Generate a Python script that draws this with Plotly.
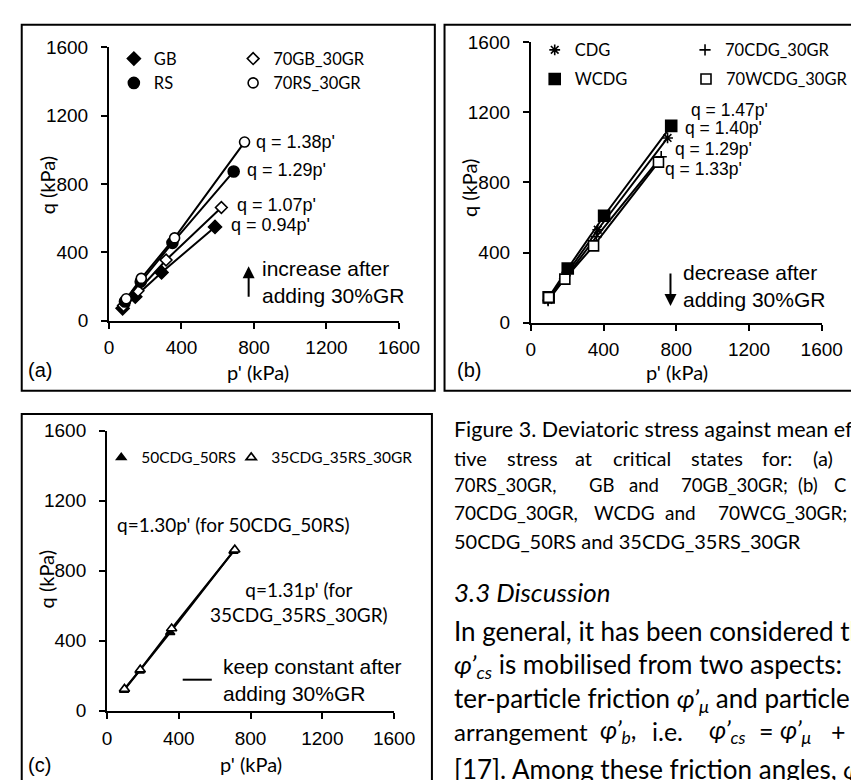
import plotly.graph_objects as go

W, H = 859, 780

# ---------------- data ----------------
# panel (a)
gb_p = [75, 145, 290, 585]
gb_q = [72, 140, 282, 548]
gb30_p = [80, 160, 315, 620]
gb30_q = [88, 175, 355, 662]
rs_p = [88, 175, 350, 688]
rs_q = [112, 228, 455, 873]
rs30_p = [95, 178, 362, 748]
rs30_q = [128, 247, 484, 1045]
eq_a = ["q = 1.38p'", "q = 1.29p'", "q = 1.07p'", "q = 0.94p'"]

# panel (b)
cdg_p = [95, 190, 368, 752]
cdg_q = [130, 268, 530, 1054]
cdg30_p = [95, 185, 360, 717]
cdg30_q = [125, 250, 490, 947]
wcdg_p = [98, 203, 403, 772]
wcdg_q = [144, 309, 610, 1123]
wcdg30_p = [98, 187, 345, 702]
wcdg30_q = [144, 248, 438, 916]
eq_b = ["q = 1.47p'", "q = 1.40p'", "q = 1.29p'", "q = 1.33p'"]

# panel (c)
m50_p = [95, 182, 352, 705]
m50_q = [118, 228, 448, 912]
m35_p = [97, 185, 360, 712]
m35_q = [125, 235, 470, 920]
eq_c = ["q=1.30p' (for 50CDG_50RS)", "q=1.31p' (for<br>35CDG_35RS_30GR)"]

ticks = [0, 400, 800, 1200, 1600]

ARIAL = "Liberation Sans, Arial, sans-serif"
CALI = "Lato, Open Sans, sans-serif"


def X(px):
    return px / W


def Y(py):
    return 1 - py / H


fig = go.Figure()


def series(p, q, name, symbol, size, xa, ya, leg, fill="black"):
    fig.add_trace(go.Scatter(x=p, y=q, mode="lines", line=dict(color="black", width=2),
                             xaxis=xa, yaxis=ya, showlegend=False, hoverinfo="skip"))
    fig.add_trace(go.Scatter(x=p, y=q, mode="markers", name=name,
                             marker=dict(symbol=symbol, size=size, color=fill,
                                         line=dict(color="black", width=1.6)),
                             xaxis=xa, yaxis=ya, legend=leg))


# panel (a)
series(gb_p, gb_q, "GB", "diamond", 10, "x", "y", "legend")
series(gb30_p, gb30_q, "70GB_30GR", "diamond", 9, "x", "y", "legend2", fill="white")
series(rs_p, rs_q, "RS", "circle", 11, "x", "y", "legend3")
series(rs30_p, rs30_q, "70RS_30GR", "circle", 10, "x", "y", "legend4", fill="white")
# panel (b)
series(cdg_p, cdg_q, "CDG", "asterisk-open", 9, "x2", "y2", "legend5")
series(cdg30_p, cdg30_q, "70CDG_30GR", "cross-thin-open", 8, "x2", "y2", "legend6")
series(wcdg_p, wcdg_q, "WCDG", "square", 11, "x2", "y2", "legend7")
series(wcdg30_p, wcdg30_q, "70WCDG_30GR", "square", 10, "x2", "y2", "legend8", fill="white")
# panel (c)
series(m50_p, m50_q, "50CDG_50RS", "triangle-up", 8, "x3", "y3", "legend9")
series(m35_p, m35_q, "35CDG_35RS_30GR", "triangle-up", 9, "x3", "y3", "legend10", fill="white")


def axis(dom, anchor, is_x):
    d = dict(domain=dom, anchor=anchor, range=[0, 1600], tickvals=ticks,
             showline=True, linecolor="black", linewidth=2, mirror=False,
             ticks="outside", ticklen=6, tickwidth=2, tickcolor="black",
             showgrid=False, zeroline=False, fixedrange=True,
             tickfont=dict(family=ARIAL, size=19, color="black"))
    d["ticklabelstandoff"] = 3 if is_x else 9
    return d


fig.update_layout(
    xaxis=axis([X(99), X(398)], "y", True),
    yaxis=axis([Y(311), Y(30)], "x", False),
    xaxis2=axis([X(534), X(834)], "y2", True),
    yaxis2=axis([Y(313), Y(25)], "x2", False),
    xaxis3=axis([X(97), X(393)], "y3", True),
    yaxis3=axis([Y(712), Y(424)], "x3", False),
)


def legend(px, py, size):
    return dict(x=X(px - 20), y=Y(py), xanchor="left", yanchor="middle",
                orientation="v", bgcolor="rgba(0,0,0,0)", borderwidth=0,
                font=dict(family=CALI, size=size, color="black"), itemclick=False,
                itemdoubleclick=False)


leg_pos = [(124, 42, 16.5), (247, 42, 16.5), (124, 67, 16.5), (247, 67, 16.5),
           (558, 33, 16.5), (713, 33, 16.5), (558, 63, 16.5), (714, 63, 16.5),
           (111, 452, 15.5), (245, 452, 15.5)]
legs = {}
for i, (px, py, sz) in enumerate(leg_pos):
    key = "legend" if i == 0 else "legend%d" % (i + 1)
    legs[key] = legend(px, py, sz)
fig.update_layout(**legs)

anns = []


def ann(text, px, py, size, family, xanchor="left", yanchor="middle", **kw):
    d = dict(text=text, x=X(px), y=Y(py), xref="paper", yref="paper",
             xanchor=xanchor, yanchor=yanchor, showarrow=False,
             font=dict(family=family, size=size, color="black"))
    d.update(kw)
    anns.append(d)


# panel (a) labels
for t, (px, py) in zip(eq_a, [(249, 127), (239, 156), (229, 192), (223, 213)]):
    ann(t, px, py, 18, ARIAL)
ann("increase after<br>adding 30%GR", 255, 271, 21, ARIAL, align="left")
ann("q (kPa)", 35, 172, 20, CALI, xanchor="center", textangle=-90)
ann("p' (kPa)", 253, 364, 20, CALI, xanchor="center")
ann("(a)", 13, 362, 20, ARIAL)

# panel (b) labels
for t, (px, py) in zip(eq_b, [(697, 95), (691, 113), (681, 135), (670, 155)]):
    ann(t, px, py, 17.5, ARIAL)
ann("decrease after<br>adding 30%GR", 689, 275, 21, ARIAL, align="left")
ann("q (kPa)", 471, 175, 20, CALI, xanchor="center", textangle=-90)
ann("p' (kPa)", 685, 364, 20, CALI, xanchor="center")
ann("(b)", 456, 362, 20, ARIAL)

# panel (c) labels
ann(eq_c[0], 105, 520, 19, CALI)
ann(eq_c[1], 295, 600, 19, CALI, xanchor="center", align="center")
ann("keep constant after<br>adding 30%GR", 215, 680, 21, ARIAL, align="left")
ann("q (kPa)", 34, 577, 20, CALI, xanchor="center", textangle=-90)
ann("p' (kPa)", 245, 767, 20, CALI, xanchor="center")
ann("(c)", 13, 768, 20, ARIAL)

# arrows
anns.append(dict(x=X(243), y=Y(255), xref="paper", yref="paper", ax=0, ay=32,
                 text="", showarrow=True, arrowhead=2, arrowsize=1.2, arrowwidth=2,
                 arrowcolor="black", standoff=0))
anns.append(dict(x=X(678), y=Y(296), xref="paper", yref="paper", ax=0, ay=-34,
                 text="", showarrow=True, arrowhead=2, arrowsize=1.2, arrowwidth=2,
                 arrowcolor="black", standoff=0))

# caption
ann("Figure 3. Deviatoric stress against mean ef", 453, 422, 21.5, CALI)
for w, px in [("tive", 453), ("stress", 507), ("at", 577), ("critical", 617),
              ("states", 697), ("for:", 770), ("(a)", 823)]:
    ann(w, px, 452, 20, CALI)
for w, px in [("70RS_30GR,", 453), ("GB", 592), ("and", 633), ("70GB_30GR;", 687),
              ("(b)", 807), ("C", 845)]:
    ann(w, px, 480, 18.5, CALI)
for w, px in [("70CDG_30GR,", 453), ("WCDG", 597), ("and", 670), ("70WCG_30GR;", 725)]:
    ann(w, px, 508, 19, CALI)
ann("50CDG_50RS and 35CDG_35RS_30GR", 453, 537, 20, CALI)

# body text
BODY = 26
ann("<i>3.3 Discussion</i>", 453, 590, BODY, CALI)
ann("In general, it has been considered th", 453, 630, BODY, CALI)
ann("<i>φ’<sub>cs</sub></i> is mobilised from two aspects:", 453, 665, BODY, CALI)
ann("ter-particle friction <i>φ’<sub>μ</sub></i> and particle", 453, 700, BODY, CALI)
ann("arrangement", 453, 733, 24, CALI)
for w, px in [("<i>φ’<sub>b</sub></i>,", 603), ("i.e.", 657),
              ("<i>φ’<sub>cs</sub></i>", 716), ("=", 767), ("<i>φ’<sub>μ</sub></i>", 789),
              ("+", 841)]:
    ann(w, px, 733, 25, CALI)
ann("[17]. Among these friction angles, <i>φ</i>", 453, 772, BODY, CALI)

shapes = []


def box(x0, y0, x1, y1):
    shapes.append(dict(type="rect", xref="paper", yref="paper",
                       x0=X(x0), y0=Y(y1), x1=X(x1), y1=Y(y0),
                       line=dict(color="black", width=2), fillcolor="rgba(0,0,0,0)"))


box(9, 7, 435, 383)
box(445, 7, 870, 383)
box(9, 407, 432, 800)
shapes.append(dict(type="line", xref="paper", yref="paper", x0=X(175), x1=X(205),
                   y0=Y(680), y1=Y(680), line=dict(color="black", width=2)))

fig.update_layout(annotations=anns, shapes=shapes, width=W, height=H,
                  margin=dict(l=0, r=0, t=0, b=0), paper_bgcolor="white",
                  plot_bgcolor="white", showlegend=True)

fig.write_html("out.html")
